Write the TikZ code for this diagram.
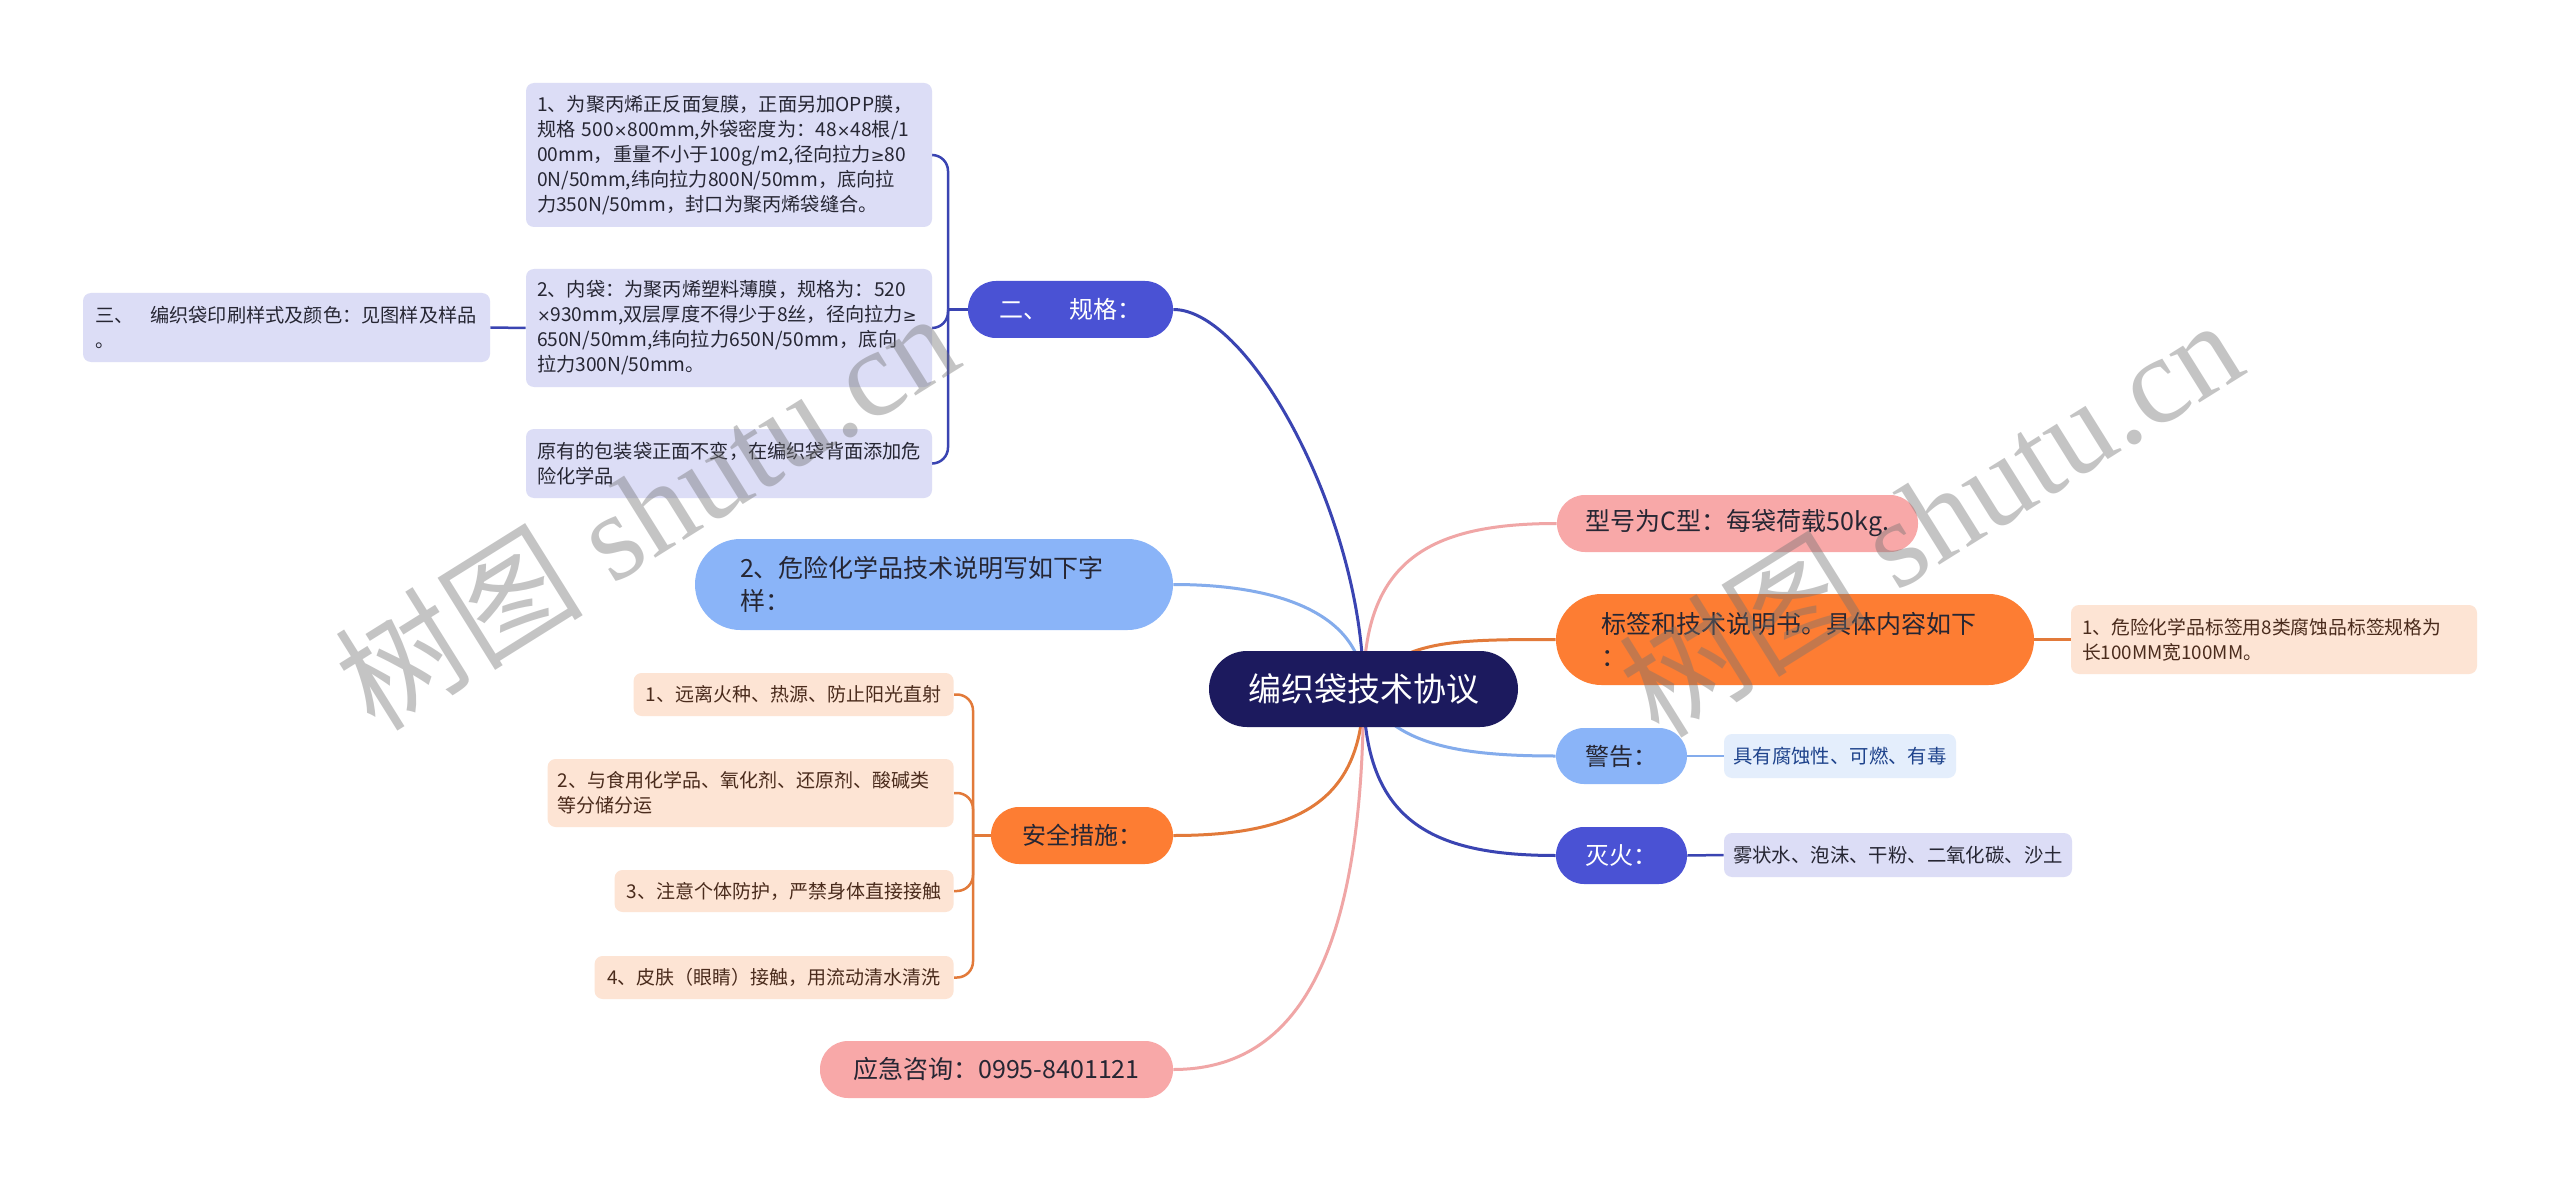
\documentclass[tikz,border=0pt]{standalone}
\usepackage{fontspec}
\setmainfont{Noto Sans CJK SC}
\newfontfamily\wmfont{Liberation Serif}
\newfontfamily\symfont{DejaVu Sans}
\newcommand{\tms}{{\symfont\scalebox{0.85}{×}}}
\newcommand{\gee}{{\symfont\scalebox{0.85}{≥}}}
\pgfdeclarelayer{bgwhite}
\pgfdeclarelayer{conn}
\pgfdeclarelayer{wmlayer}
\pgfsetlayers{bgwhite,conn,main,wmlayer}
\definecolor{navy}{HTML}{1C1A5E}
\definecolor{violet}{HTML}{4A52D4}
\definecolor{dblue}{HTML}{3A44B2}
\definecolor{lav}{HTML}{DCDDF6}
\definecolor{lblue}{HTML}{8AB4F8}
\definecolor{lblueln}{HTML}{84ACEC}
\definecolor{paleblue}{HTML}{E4EEFC}
\definecolor{orng}{HTML}{FD7D33}
\definecolor{orngln}{HTML}{E27A3A}
\definecolor{peach}{HTML}{FDE4D4}
\definecolor{pinkf}{HTML}{F8A8A8}
\definecolor{pinkln}{HTML}{F0A6A6}
\definecolor{txtdark}{HTML}{262633}
\definecolor{txtbrown}{HTML}{4A2B1C}
\definecolor{txtblue}{HTML}{1E438C}
\tikzset{
  rootbox/.style={fill=navy, text=white, rounded corners=19pt, minimum width=154.5pt, minimum height=38pt, inner sep=0pt, font=\fontsize{16.5}{20}\selectfont},
  pillbox/.style={rounded corners=14pt, minimum height=28.5pt, inner sep=0pt, align=center, text=txtdark, font=\fontsize{12}{15}\selectfont},
  bigpill/.style={rounded corners=22.75pt, minimum height=45.5pt, inner ysep=0pt, inner xsep=22.5pt, text width=194pt, align=left, text=txtdark, font=\fontsize{12.5}{16.5}\selectfont},
  leafbox/.style={rounded corners=4pt, inner ysep=0pt, text=txtdark, font=\fontsize{9.6}{12.5}\selectfont},
  mainln/.style={line width=1.5pt},
  subln/.style={line width=1.25pt},
  wmk/.style={font=\fontsize{62}{62}\selectfont, text=black!55, text opacity=0.42, inner sep=0pt}
}
\begin{document}
\begin{tikzpicture}[x=0.5pt, y=-0.5pt]
\useasboundingbox (0,0) rectangle (2560,1182);
\begin{pgfonlayer}{bgwhite}
\fill[white] (0,0) rectangle (2560,1182);
\end{pgfonlayer}

% root
\node[rootbox] (root) at (1363.5,689) {编织袋技术协议};

% left side
\node[pillbox, fill=violet, text=white, minimum width=102.5pt] (er) at (1070.5,309.5) {二、\hspace{11pt}规格：};
\node[leafbox, fill=lav, text width=192pt, inner xsep=5.5pt, minimum height=72pt, align=left] (s1) at (729,155) {1、为聚丙烯正反面复膜，正面另加OPP膜，\\规格 500\tms800mm,外袋密度为：48\tms48根/1\\00mm，重量不小于100g/m2,径向拉力\gee80\\0N/50mm,纬向拉力800N/50mm，底向拉\\力350N/50mm，封口为聚丙烯袋缝合。};
\node[leafbox, fill=lav, text width=192pt, inner xsep=5.5pt, minimum height=59pt, align=left] (s2) at (729,328) {2、内袋：为聚丙烯塑料薄膜，规格为：520\\\tms930mm,双层厚度不得少于8丝，径向拉力\gee\\650N/50mm,纬向拉力650N/50mm，底向\\拉力300N/50mm。};
\node[leafbox, fill=lav, text width=192pt, inner xsep=5.5pt, minimum height=34.5pt, align=left] (s3) at (729,463.5) {原有的包装袋正面不变，在编织袋背面添加危\\险化学品};
\node[leafbox, fill=lav, text width=191.5pt, inner xsep=6pt, minimum height=34.5pt, align=left] (three) at (286.5,327.5) {三、\hspace{8.5pt}编织袋印刷样式及颜色：见图样及样品\\。};

\node[bigpill, fill=lblue] (wx) at (934,584.5) {2、危险化学品技术说明写如下字\\样：};

\node[pillbox, fill=orng, minimum width=91pt] (safe) at (1082,835.5) {安全措施：};
\node[leafbox, fill=peach, text=txtbrown, font=\fontsize{9.5}{12.5}\selectfont, minimum width=160pt, minimum height=21.5pt, anchor=east] (c1) at (954,694.5) {1、远离火种、热源、防止阳光直射};
\node[leafbox, fill=peach, text=txtbrown, font=\fontsize{9.5}{12.5}\selectfont, text width=193pt, inner xsep=5pt, minimum height=34pt, align=left, anchor=east] (c2) at (954,793) {2、与食用化学品、氧化剂、还原剂、酸碱类\\等分储分运};
\node[leafbox, fill=peach, text=txtbrown, font=\fontsize{9.5}{12.5}\selectfont, minimum width=169.5pt, minimum height=21pt, anchor=east] (c3) at (954,891) {3、注意个体防护，严禁身体直接接触};
\node[leafbox, fill=peach, text=txtbrown, font=\fontsize{9.5}{12.5}\selectfont, minimum width=179.5pt, minimum height=21.5pt, anchor=east] (c4) at (954,977.5) {4、皮肤（眼睛）接触，用流动清水清洗};

\node[pillbox, fill=pinkf, minimum width=176.5pt, font=\fontsize{12.5}{15}\selectfont] (emerg) at (996.5,1069.5) {应急咨询：0995-8401121};

% right side
\node[pillbox, fill=pinkf, minimum width=180.5pt, font=\fontsize{12.5}{15}\selectfont] (xh) at (1737.5,523.5) {型号为C型：每袋荷载50kg.};
\node[bigpill, fill=orng] (bq) at (1795,639.5) {标签和技术说明书。具体内容如下\\：};
\node[leafbox, fill=peach, text=txtbrown, font=\fontsize{9.4}{12.5}\selectfont, text width=192pt, inner xsep=5.5pt, minimum height=34.5pt, align=left] (bqc) at (2274,639.5) {1、危险化学品标签用8类腐蚀品标签规格为\\长100MM宽100MM。};
\node[pillbox, fill=lblue, minimum width=65.5pt, minimum height=28pt] (jg) at (1621.5,756) {警告：};
\node[leafbox, fill=paleblue, text=txtblue, font=\fontsize{9.7}{12.5}\selectfont, minimum width=116pt, minimum height=22pt] (jgc) at (1840,756) {具有腐蚀性、可燃、有毒};
\node[pillbox, fill=violet, text=white, minimum width=65.5pt] (mh) at (1621.5,855.5) {灭火：};
\node[leafbox, fill=lav, font=\fontsize{9.7}{12.5}\selectfont, minimum width=174pt, minimum height=22pt] (mhc) at (1898,855) {雾状水、泡沫、干粉、二氧化碳、沙土};

\coordinate (spA) at (948,309.5);
\coordinate (spB) at (973,835.5);

\begin{pgfonlayer}{conn}
\draw[mainln, dblue] (root.center) .. controls +(0,-169) and +(77,0) .. (er.east);
\draw[mainln, lblueln] (root.center) .. controls +(0,-69) and +(117,0) .. (wx.east);
\draw[mainln, orngln] (root.center) .. controls +(0,111) and +(127,0) .. (safe.east);
\draw[mainln, pinkln] (root.center) .. controls +(0,261) and +(127,0) .. (emerg.east);
\draw[mainln, pinkln] (root.center) .. controls +(0,-129) and +(-127,0) .. (xh.west);
\draw[mainln, orngln] (root.center) .. controls +(37,-49) and +(-106,0) .. (bq.west);
\draw[mainln, lblueln] (root.center) .. controls +(27,56) and +(-96,0) .. (jg.west);
\draw[mainln, dblue] (root.center) .. controls +(0,131) and +(-126,0) .. (mh.west);

\draw[subln, dblue] (er.west) -- (spA);
\draw[subln, dblue, rounded corners=8pt] (spA) |- (s1.east);
\draw[subln, dblue, rounded corners=8pt] (spA) |- (s2.east);
\draw[subln, dblue, rounded corners=8pt] (spA) |- (s3.east);
\draw[subln, dblue] (three.east) -- (s2.west);

\draw[subln, orngln] (safe.west) -- (spB);
\draw[subln, orngln, rounded corners=8pt] (spB) |- (c1.east);
\draw[subln, orngln, rounded corners=8pt] (spB) |- (c2.east);
\draw[subln, orngln, rounded corners=8pt] (spB) |- (c3.east);
\draw[subln, orngln, rounded corners=8pt] (spB) |- (c4.east);

\draw[subln, orngln] (bq.east) -- (bqc.west);
\draw[subln, lblueln] (jg.east) -- (jgc.west);
\draw[subln, dblue] (mh.east) -- (mhc.west);
\end{pgfonlayer}

\begin{pgfonlayer}{wmlayer}
\node[wmk, rotate=32] (wm1) at (646,509) {树图\hspace{0.25em}{\wmfont shutu.cn}};
\node[wmk, rotate=32] (wm2) at (1930,516) {树图\hspace{0.25em}{\wmfont shutu.cn}};
\end{pgfonlayer}
\end{tikzpicture}
\end{document}
